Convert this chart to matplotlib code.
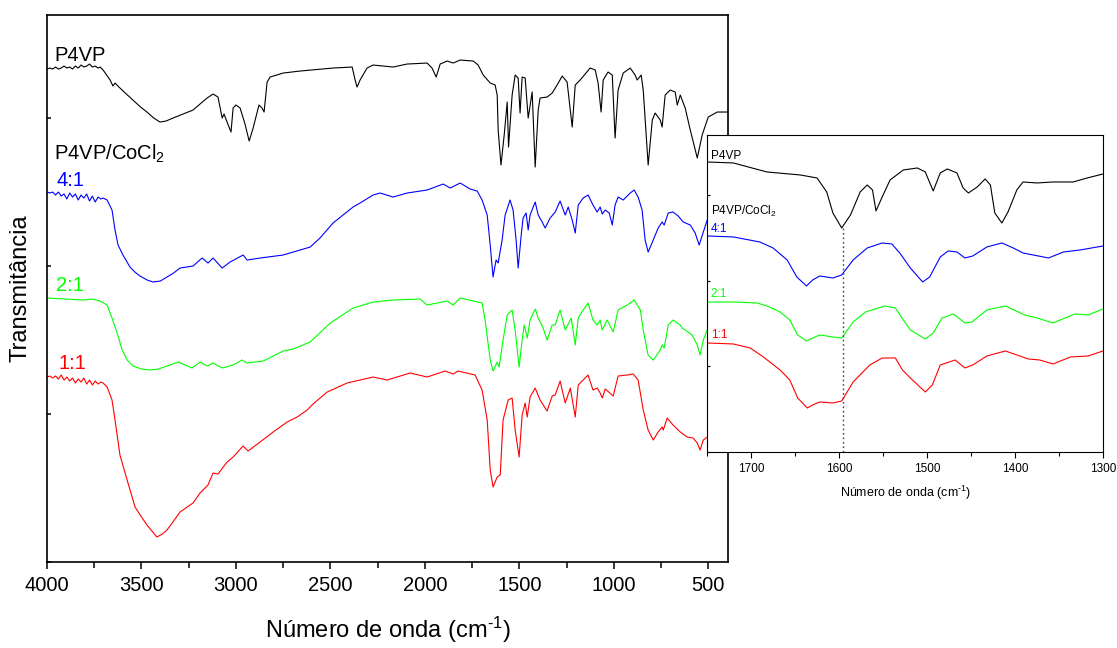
import matplotlib
matplotlib.use("Agg")
import matplotlib.pyplot as plt
from matplotlib.ticker import MultipleLocator

plt.rcParams['font.family'] = ['Liberation Sans', 'DejaVu Sans']
plt.rcParams['mathtext.default'] = 'regular'

# ---- main spectra (wavenumber cm-1, transmittance a.u., offset already in) ----
p4vp_w = [4000, 3985, 3970, 3955, 3940, 3925, 3910, 3895, 3880, 3865, 3850, 3835, 3820, 3805,
          3790, 3775, 3760, 3745, 3730, 3719, 3703, 3666, 3651, 3640, 3614, 3580, 3545, 3505,
          3471, 3435, 3402, 3370, 3333, 3280, 3227, 3153, 3121, 3095, 3073, 3063, 3047, 3026,
          3015, 3000, 2978, 2952, 2930, 2909, 2878, 2862, 2851, 2835, 2819, 2750, 2660, 2486,
          2385, 2369, 2359, 2343, 2306, 2274, 2168, 2094, 1988, 1962, 1940, 1919, 1882, 1850,
          1813, 1744, 1718, 1691, 1654, 1628, 1617, 1612, 1597, 1580, 1564, 1557, 1538, 1522,
          1506, 1496, 1485, 1469, 1453, 1432, 1416, 1400, 1390, 1353, 1326, 1300, 1273, 1247,
          1220, 1204, 1178, 1125, 1098, 1083, 1067, 1056, 1030, 1008, 993, 977, 950, 913, 887,
          876, 855, 844, 818, 796, 781, 754, 744, 728, 701, 675, 664, 648, 622, 595, 558, 532,
          500, 452, 399]
p4vp_t = [493, 494, 493, 495, 493, 494, 496, 494, 495, 493, 496, 494, 497, 495,
          496, 498, 495, 496, 494, 495, 492, 482, 476, 479, 474, 468, 462, 455,
          450, 444, 440, 441, 444, 448, 452, 464, 468, 465, 444, 448, 440, 430,
          454, 457, 454, 438, 421, 434, 457, 454, 450, 480, 485, 489, 491, 494,
          495, 482, 475, 482, 494, 497, 495, 498, 499, 494, 485, 498, 501, 499,
          502, 501, 497, 487, 479, 477, 467, 432, 397, 427, 460, 415, 467, 487,
          484, 449, 485, 484, 444, 470, 395, 452, 464, 465, 469, 477, 486, 480,
          435, 477, 482, 494, 492, 479, 450, 482, 490, 487, 424, 472, 489, 494, 487,
          482, 487, 472, 397, 442, 449, 442, 435, 467, 472, 470, 457, 467, 454, 432, 404, 427,
          445, 450, 450]

r41_w = [4000, 3985, 3970, 3955, 3940, 3925, 3910, 3895, 3880, 3865, 3850, 3835, 3820, 3805,
         3790, 3775, 3760, 3745, 3730, 3715, 3703, 3682, 3656, 3640, 3624, 3598, 3561, 3535,
         3508, 3470, 3439, 3400, 3365, 3330, 3296, 3227, 3179, 3148, 3121, 3073, 3031, 2962,
         2941, 2872, 2750, 2607, 2555, 2486, 2380, 2343, 2274, 2237, 2168, 2094, 1988, 1903,
         1866, 1813, 1760, 1723, 1697, 1670, 1654, 1639, 1623, 1612, 1591, 1575, 1549, 1533,
         1517, 1506, 1490, 1480, 1464, 1453, 1443, 1416, 1400, 1379, 1363, 1337, 1310, 1284,
         1257, 1241, 1220, 1204, 1188, 1162, 1136, 1110, 1088, 1072, 1061, 1045, 1024, 1008,
         993, 977, 950, 913, 892, 871, 850, 834, 818, 791, 765, 744, 733, 712, 686, 659, 632,
         595, 569, 548, 526, 500, 450, 400]
r41_t = [370, 369, 370, 367, 370, 366, 368, 363, 369, 365, 368, 362, 367, 364,
         368, 361, 366, 360, 365, 363, 364, 362, 352, 332, 317, 307, 295, 290,
         286, 282, 280, 281, 285, 289, 294, 296, 304, 299, 304, 294, 300, 307,
         302, 304, 307, 315, 324, 339, 355, 359, 367, 369, 365, 369, 372, 378,
         374, 379, 373, 371, 362, 347, 317, 285, 302, 299, 322, 347, 362, 352,
         322, 294, 327, 344, 349, 332, 347, 360, 347, 340, 334, 344, 350, 361,
         347, 355, 342, 329, 357, 364, 367, 357, 350, 355, 348, 352, 349, 337,
         357, 365, 362, 369, 372, 365, 352, 322, 310, 322, 334, 340, 337, 349, 350, 346, 340,
         337, 329, 317, 330, 345, 350, 352]

r21_w = [4000, 3900, 3809, 3760, 3719, 3682, 3656, 3629, 3602, 3576, 3545, 3500, 3455, 3410,
         3365, 3306, 3232, 3190, 3153, 3121, 3073, 3015, 2968, 2941, 2856, 2750, 2697, 2607,
         2501, 2380, 2274, 2168, 2025, 1988, 1882, 1850, 1813, 1697, 1681, 1654, 1639, 1617,
         1607, 1586, 1564, 1538, 1522, 1501, 1485, 1474, 1458, 1443, 1416, 1400, 1374, 1353,
         1326, 1310, 1284, 1257, 1225, 1204, 1188, 1162, 1136, 1110, 1088, 1072, 1061, 1035,
         1003, 977, 929, 892, 859, 844, 818, 791, 754, 744, 733, 712, 686, 648, 638, 622, 585,
         558, 543, 526, 500, 450, 400]
r21_t = [264, 263, 262, 263, 261, 257, 244, 229, 212, 202, 196, 193, 192, 193,
         196, 200, 194, 200, 196, 199, 194, 197, 202, 199, 201, 211, 213, 220,
         239, 254, 260, 262, 263, 257, 261, 257, 264, 259, 242, 202, 191, 200,
         195, 222, 247, 252, 232, 195, 222, 237, 224, 242, 253, 244, 234, 222,
         237, 237, 252, 232, 244, 217, 244, 252, 259, 242, 237, 242, 232, 242,
         230, 252, 257, 262, 252, 232, 207, 202, 212, 217, 214, 237, 242, 237, 234, 232, 227,
         217, 207, 222, 235, 240, 242]

r11_w = [4000, 3985, 3970, 3955, 3940, 3925, 3910, 3895, 3880, 3865, 3850, 3835, 3820, 3805,
         3790, 3775, 3760, 3745, 3730, 3715, 3703, 3682, 3656, 3640, 3614, 3576, 3534, 3500,
         3471, 3445, 3418, 3390, 3365, 3330, 3296, 3243, 3227, 3190, 3148, 3121, 3095, 3047,
         3015, 2962, 2936, 2872, 2803, 2729, 2676, 2623, 2592, 2517, 2412, 2274, 2200, 2078,
         1988, 1893, 1850, 1824, 1734, 1697, 1670, 1654, 1639, 1617, 1601, 1586, 1559, 1538,
         1522, 1501, 1485, 1469, 1458, 1443, 1416, 1390, 1353, 1326, 1310, 1284, 1257, 1230,
         1204, 1188, 1162, 1136, 1110, 1088, 1072, 1061, 1045, 1003, 977, 929, 897, 871, 844,
         818, 791, 765, 744, 738, 717, 686, 648, 611, 580, 558, 543, 526, 505, 450, 400]
r11_t = [185, 186, 184, 186, 183, 187, 182, 185, 181, 184, 179, 183, 180, 184,
         178, 182, 177, 181, 178, 180, 179, 175, 162, 142, 107, 82, 55, 45,
         37, 31, 25, 28, 32, 41, 50, 57, 59, 69, 77, 89, 88, 100,
         105, 116, 111, 120, 130, 140, 145, 152, 158, 170, 179, 185, 182, 189,
         185, 191, 188, 191, 187, 172, 142, 92, 75, 85, 87, 142, 162, 164,
         132, 105, 147, 159, 145, 165, 174, 162, 151, 166, 167, 181, 159, 174,
         145, 177, 182, 187, 172, 174, 169, 164, 173, 166, 186, 187, 188, 182, 152,
         132, 122, 130, 135, 132, 144, 137, 130, 125, 124, 119, 112, 122, 125, 128, 130]

# ---- inset spectra, 1750-1300 cm-1 ----
in_p4vp_w = [1750, 1720, 1682, 1644, 1625, 1614, 1607, 1597, 1587, 1576, 1568, 1562, 1558, 1551,
             1542, 1527, 1511, 1502, 1493, 1485, 1477, 1466, 1459, 1453, 1443, 1434, 1428, 1423,
             1415, 1408, 1398, 1391, 1375, 1357, 1334, 1318, 1300]
in_p4vp_t = [290, 289, 280, 277, 274, 260, 239, 224, 237, 260, 267, 262, 241, 255,
             272, 282, 284, 280, 261, 279, 283, 279, 264, 259, 265, 273, 267, 239,
             229, 240, 262, 270, 269, 270, 270, 274, 278]

in_41_w = [1750, 1720, 1690, 1675, 1659, 1648, 1637, 1630, 1622, 1607, 1597, 1584, 1568, 1551,
           1540, 1531, 1519, 1505, 1497, 1485, 1476, 1466, 1457, 1448, 1432, 1415, 1402, 1391,
           1362, 1345, 1326, 1300]
in_41_t = [216, 215, 210, 204, 192, 175, 166, 172, 176, 174, 177, 192, 204, 209,
           208, 199, 184, 170, 175, 195, 201, 200, 194, 196, 205, 209, 204, 199,
           194, 200, 202, 206]

in_21_w = [1750, 1720, 1693, 1682, 1667, 1656, 1647, 1637, 1630, 1622, 1607, 1597, 1584, 1570,
           1559, 1548, 1536, 1527, 1519, 1502, 1493, 1483, 1470, 1457, 1449, 1432, 1411, 1389,
           1375, 1357, 1332, 1317, 1300]
in_21_t = [150, 150, 149, 146, 140, 132, 117, 111, 114, 117, 115, 114, 130, 140,
           143, 146, 144, 132, 122, 113, 119, 134, 138, 129, 130, 142, 146, 137,
           134, 129, 138, 137, 143]

in_11_w = [1750, 1720, 1701, 1686, 1667, 1656, 1647, 1636, 1630, 1622, 1607, 1597, 1584, 1565,
           1551, 1536, 1528, 1519, 1502, 1494, 1485, 1468, 1457, 1448, 1432, 1411, 1385, 1372,
           1357, 1337, 1317, 1300]
in_11_t = [109, 108, 104, 95, 82, 72, 54, 44, 47, 50, 49, 51, 70, 87,
           94, 94, 82, 74, 60, 67, 87, 92, 84, 87, 96, 101, 93, 92,
           88, 95, 96, 101]

ring_band = 1596

blue = '#0000ff'
green = '#00ff00'
red = '#ff0000'

xlab = 'Número de onda (cm$^{\u20101}$)'

fig = plt.figure(figsize=(11.17, 6.48), dpi=100)
ax = fig.add_axes([0.0421, 0.1327, 0.6097, 0.8441])

ax.plot(p4vp_w, p4vp_t, color='black', lw=0.8)
ax.plot(r41_w, r41_t, color=blue, lw=0.8)
ax.plot(r21_w, r21_t, color=green, lw=0.8)
ax.plot(r11_w, r11_t, color=red, lw=0.8)

ax.set_xlim(4000, 395)
ax.set_ylim(0, 547)
ax.xaxis.set_major_locator(MultipleLocator(500))
ax.xaxis.set_minor_locator(MultipleLocator(250))
ax.yaxis.set_major_locator(MultipleLocator(148))
ax.set_yticklabels([])
ax.tick_params(axis='x', which='major', direction='out', length=5, width=1.1, labelsize=14.5, pad=5)
ax.tick_params(axis='x', which='minor', direction='out', length=4, width=1.1)
ax.tick_params(axis='y', which='major', direction='in', length=3, width=1.1)
for s in ax.spines.values():
    s.set_linewidth(1.2)

ax.set_xlabel(xlab, fontsize=17, labelpad=14)
ax.set_ylabel('Transmitância', fontsize=17, labelpad=8)

ax.text(3962, 501, 'P4VP', fontsize=14.5, color='black')
ax.text(3962, 402, 'P4VP/CoCl$_2$', fontsize=14.5, color='black')
ax.text(3948, 376, '4:1', fontsize=14.5, color=blue)
ax.text(3955, 271, '2:1', fontsize=14.5, color=green)
ax.text(3940, 193, '1:1', fontsize=14.5, color=red)

# ---- inset ----
ins = fig.add_axes([0.633, 0.3025, 0.3545, 0.4892])
ins.set_facecolor('white')
ins.plot(in_p4vp_w, in_p4vp_t, color='black', lw=0.8)
ins.plot(in_41_w, in_41_t, color=blue, lw=0.8)
ins.plot(in_21_w, in_21_t, color=green, lw=0.8)
ins.plot(in_11_w, in_11_t, color=red, lw=0.8)
ins.vlines(ring_band, 0, min(in_p4vp_t), colors='#444444', linestyles=(0, (1.2, 2)), lw=1)

ins.set_xlim(1750, 1300)
ins.set_ylim(0, 317)
ins.xaxis.set_major_locator(MultipleLocator(100))
ins.xaxis.set_minor_locator(MultipleLocator(50))
ins.yaxis.set_major_locator(MultipleLocator(85.5))
ins.set_yticklabels([])
ins.tick_params(axis='x', which='major', direction='out', length=4, width=0.8, labelsize=8.5, pad=4)
ins.tick_params(axis='x', which='minor', direction='out', length=3, width=0.8)
ins.tick_params(axis='y', direction='in', length=2.5, width=0.8)
for s in ins.spines.values():
    s.set_linewidth(0.8)
ins.set_xlabel(xlab, fontsize=9, labelpad=6)

ins.text(1746, 293, 'P4VP', fontsize=8.5, color='black')
ins.text(1746, 237, 'P4VP/CoCl$_2$', fontsize=8.5, color='black')
ins.text(1746, 220, '4:1', fontsize=8.5, color=blue)
ins.text(1746, 155, '2:1', fontsize=8.5, color=green)
ins.text(1746, 114, '1:1', fontsize=8.5, color=red)

fig.savefig('out.png', dpi=100)
